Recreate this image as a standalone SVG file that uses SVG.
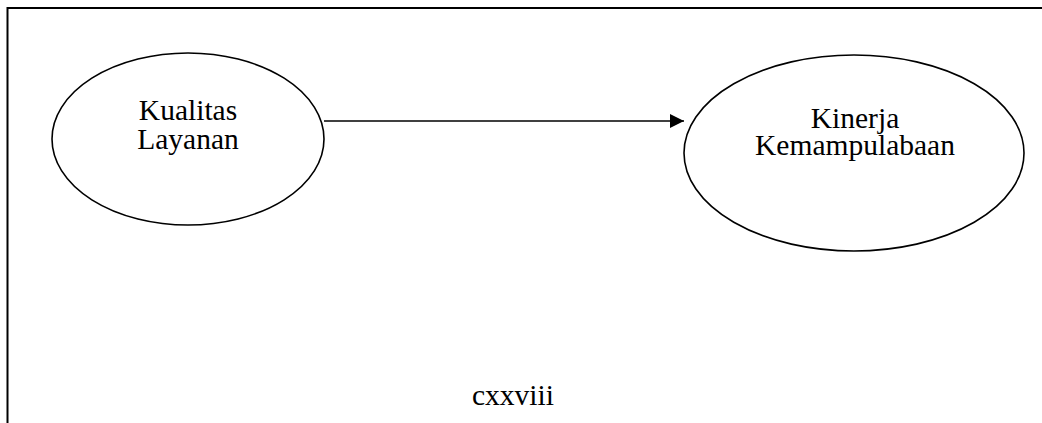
<svg xmlns="http://www.w3.org/2000/svg" width="1042" height="423" viewBox="0 0 1042 423">
  <style>
    .frame { stroke: #000; stroke-width: 2; fill: none; }
    .node { fill: #fff; stroke: #000; stroke-width: 1.6; }
    .label { font-family: "Liberation Serif", "Times New Roman", serif; font-size: 29.5px; fill: #000; text-anchor: middle; }
    .edge { stroke: #000; stroke-width: 1.6; fill: none; }
  </style>
  <defs>
    <marker id="arrow" markerUnits="userSpaceOnUse" markerWidth="14" markerHeight="14" refX="14" refY="7" orient="auto">
      <path d="M0,0 L14,7 L0,14 Z" fill="#000"/>
    </marker>
  </defs>
  <rect width="1042" height="423" fill="#fff"/>

  <!-- page frame: top and left edges -->
  <g id="frame">
    <line class="frame" x1="7.5" y1="8" x2="1042" y2="8"/>
    <line class="frame" x1="7.5" y1="7" x2="7.5" y2="423"/>
  </g>

  <g id="connectors">
    <line class="edge" x1="324" y1="121" x2="684" y2="121" marker-end="url(#arrow)"/>
  </g>

  <g id="kualitas-layanan">
    <ellipse class="node" cx="188" cy="139" rx="136" ry="86"/>
    <text class="label" x="188" y="120">Kualitas</text>
    <text class="label" x="188" y="149">Layanan</text>
  </g>

  <g id="kinerja-kemampulabaan">
    <ellipse class="node" cx="854" cy="153" rx="170" ry="98"/>
    <text class="label" x="855" y="128">Kinerja</text>
    <text class="label" x="855" y="155">Kemampulabaan</text>
  </g>

  <!-- page number -->
  <text class="label" x="513" y="405">cxxviii</text>
</svg>
